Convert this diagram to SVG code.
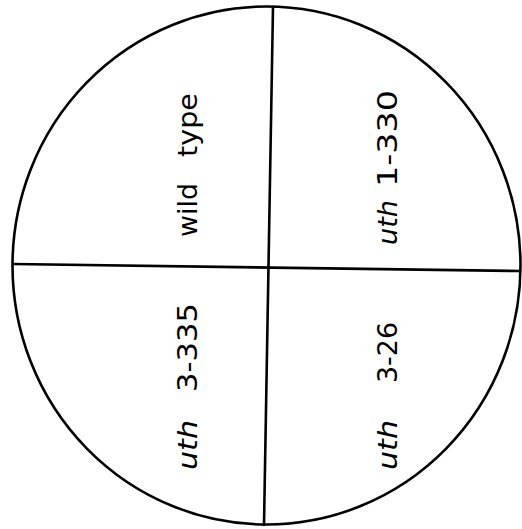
<svg xmlns="http://www.w3.org/2000/svg" width="522" height="529" viewBox="0 0 522 529">
<style>
.ln{fill:none;stroke:#000;stroke-width:2.6;stroke-linecap:round}
.lb{font-family:"DejaVu Sans","Liberation Sans",sans-serif;font-size:26px;fill:#000}
.it{font-style:italic}
</style>
<rect width="522" height="529" fill="#fff"/>
<g id="plate">
<ellipse class="ln" cx="266.5" cy="265.5" rx="254" ry="259" stroke-width="3"/>
</g>
<g id="dividers">
<line class="ln" x1="273" y1="7" x2="264" y2="525"/>
<line class="ln" x1="13" y1="264" x2="520" y2="271"/>
</g>
<g id="wild-type">
<text class="lb" transform="translate(197,237) rotate(-90)"><tspan x="0" textLength="54" lengthAdjust="spacingAndGlyphs">wild</tspan><tspan x="80" textLength="64" lengthAdjust="spacingAndGlyphs">type</tspan></text>
</g>
<g id="uth-1-330">
<text class="lb" transform="translate(397,245) rotate(-90)"><tspan class="it" x="0" textLength="45" lengthAdjust="spacingAndGlyphs">uth</tspan><tspan x="58" textLength="97" lengthAdjust="spacingAndGlyphs">1-330</tspan></text>
</g>
<g id="uth-3-335">
<text class="lb" transform="translate(197,470) rotate(-90)"><tspan class="it" x="0" textLength="50" lengthAdjust="spacingAndGlyphs">uth</tspan><tspan x="78" textLength="89" lengthAdjust="spacingAndGlyphs">3-335</tspan></text>
</g>
<g id="uth-3-26">
<text class="lb" transform="translate(397,470) rotate(-90)"><tspan class="it" x="0" textLength="50" lengthAdjust="spacingAndGlyphs">uth</tspan><tspan x="87" textLength="61" lengthAdjust="spacingAndGlyphs">3-26</tspan></text>
</g>
</svg>
